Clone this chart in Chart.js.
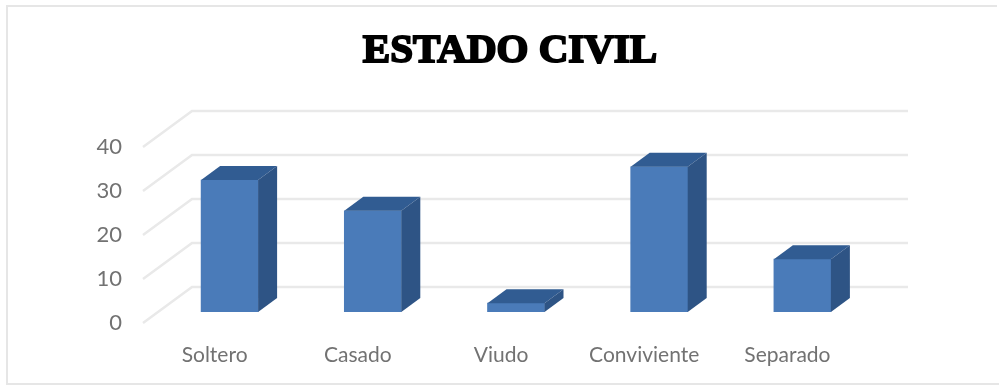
<!DOCTYPE html>
<html>
<head>
<meta charset="utf-8">
<title>Estado civil</title>
<script src="https://cdn.jsdelivr.net/npm/chart.js@4/dist/chart.umd.min.js"></script>
<style>
  html, body { margin: 0; padding: 0; background: #fff; }
  #box { width: 999px; height: 387px; }
</style>
</head>
<body>
<div id="box"><canvas id="chart" width="999" height="387"></canvas></div>
<script>
const chartTitle = 'ESTADO CIVIL';
const categories = ['Soltero', 'Casado', 'Viudo', 'Conviviente', 'Separado'];
const personas = [30, 23, 2, 33, 12];
const yMin = 0;
const yMax = 40;
const yStep = 10;

const FRONT = '#4a7bb9', TOP = '#315c92', SIDE = '#2e5485', GRID = '#e9e9e9', TEXT = '#727272';
const WALL = { dx: 34, dy: -25 };   // floor depth of the back wall
const LIP = { dx: -15, dy: 11 };    // how far the floor runs in front of the axis
const BAR = { dx: 19, dy: -14 };    // depth of a column

const poly = (ctx, pts, fill) => {
  ctx.beginPath();
  pts.forEach((p, i) => i ? ctx.lineTo(p[0], p[1]) : ctx.moveTo(p[0], p[1]));
  ctx.closePath();
  ctx.fillStyle = fill;
  ctx.fill();
};

// Frame, title, perspective grid and the depth faces of the columns
const solid = {
  id: 'solid',
  beforeDatasetsDraw(chart) {
    const { ctx, chartArea: a, scales: { y } } = chart;
    ctx.save();
    ctx.strokeStyle = '#e6e6e6';
    ctx.lineWidth = 2;
    ctx.beginPath();
    ctx.moveTo(997, 6); ctx.lineTo(7, 6); ctx.lineTo(7, 384); ctx.lineTo(999, 384);
    ctx.stroke();

    ctx.fillStyle = '#000';
    ctx.strokeStyle = '#000';
    ctx.lineWidth = 2;
    ctx.font = 'bold 41px "Liberation Serif"';
    ctx.textAlign = 'center';
    ctx.textBaseline = 'alphabetic';
    ctx.fillText(chartTitle, 510, 62);
    ctx.strokeText(chartTitle, 510, 62);

    ctx.strokeStyle = GRID;
    ctx.lineWidth = 2.5;
    y.ticks.forEach(t => {
      const py = y.getPixelForValue(t.value);
      ctx.beginPath();
      ctx.moveTo(a.left + LIP.dx, py + LIP.dy);
      ctx.lineTo(a.left + WALL.dx, py + WALL.dy);
      ctx.lineTo(a.right + WALL.dx, py + WALL.dy);
      ctx.stroke();
    });
    ctx.restore();
  },
  afterDatasetsDraw(chart) {
    const { ctx } = chart;
    ctx.save();
    chart.getDatasetMeta(0).data.forEach(bar => {
      const half = bar.width / 2;
      const l = bar.x - half, r = bar.x + half, t = bar.y, b = bar.base;
      poly(ctx, [[l, t], [r, t], [r + BAR.dx, t + BAR.dy], [l + BAR.dx, t + BAR.dy]], TOP);
      poly(ctx, [[r, t], [r + BAR.dx, t + BAR.dy], [r + BAR.dx, b + BAR.dy], [r, b]], SIDE);
    });
    ctx.restore();
  }
};

new Chart(document.getElementById('chart'), {
  type: 'bar',
  data: {
    labels: categories,
    datasets: [{
      data: personas,
      backgroundColor: FRONT,
      barThickness: 57
    }]
  },
  plugins: [solid],
  options: {
    responsive: false,
    animation: false,
    layout: { padding: { top: 136, right: 125, bottom: 0, left: 0 } },
    plugins: { legend: { display: false }, title: { display: false }, tooltip: { enabled: false } },
    scales: {
      x: {
        afterFit(s) { s.height = 75; },
        grid: { display: false },
        border: { display: false },
        ticks: {
          color: TEXT,
          font: { family: 'Lato', size: 21 },
          padding: 23,
          labelOffset: -15,
          maxRotation: 0
        }
      },
      y: {
        min: yMin,
        max: yMax,
        afterFit(s) { s.width = 158; },
        grid: { display: false },
        border: { display: false },
        ticks: {
          stepSize: yStep,
          color: TEXT,
          font: { family: 'Lato', size: 22 },
          padding: 28,
          labelOffset: 11
        }
      }
    }
  }
});
</script>
</body>
</html>
